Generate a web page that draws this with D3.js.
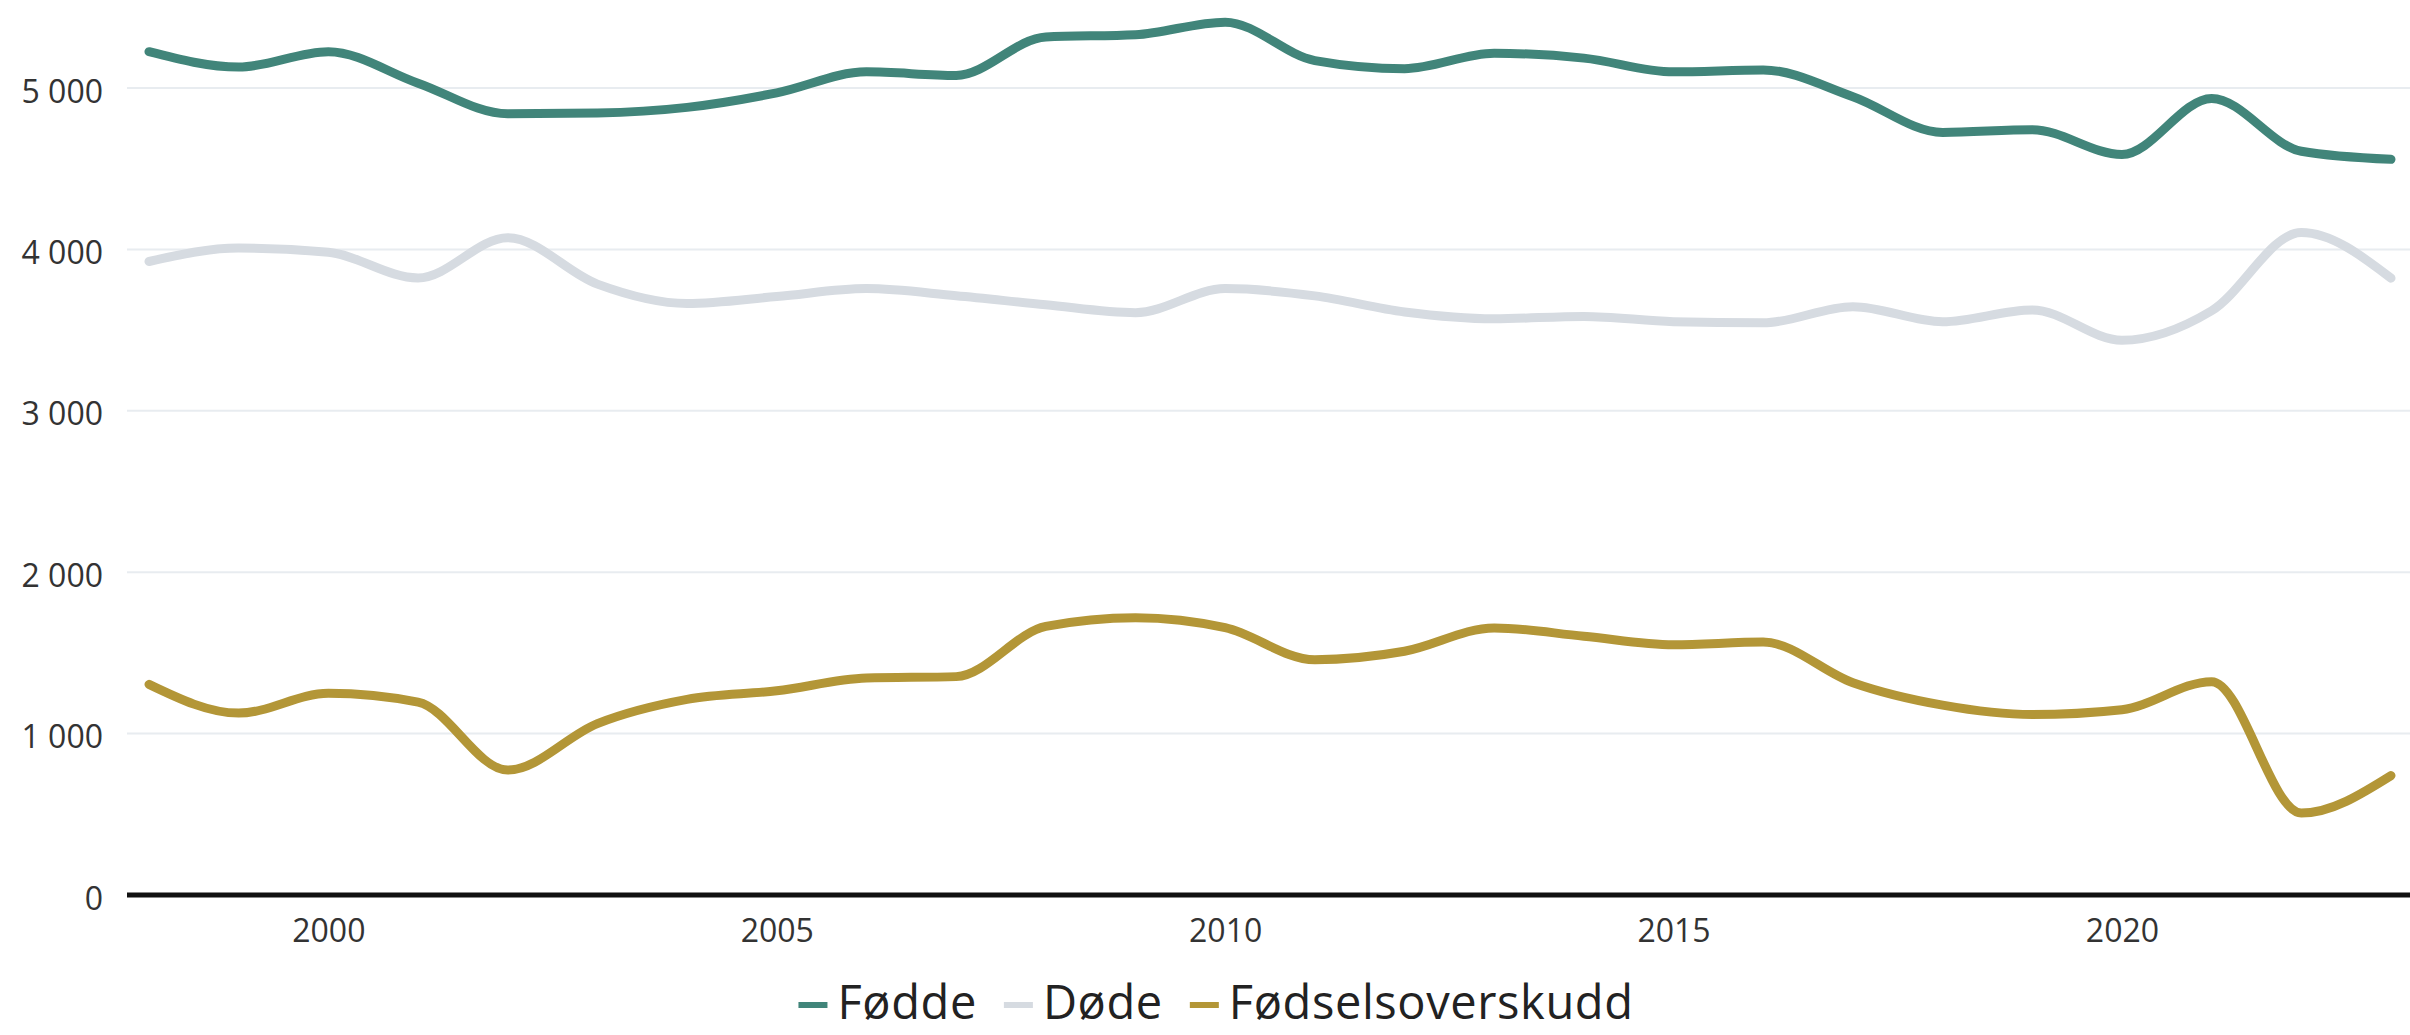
<!DOCTYPE html>
<html>
<head>
<meta charset="utf-8">
<script src="https://cdn.jsdelivr.net/npm/d3@7"></script>
<style>
  body { margin: 0; background: #fff; }
  svg { display: block; font-family: "Open Sans", "Noto Sans", sans-serif; }
</style>
</head>
<body>
<div id="chart"></div>
<script>
'use strict';

var years = [1998, 1999, 2000, 2001, 2002, 2003, 2004, 2005, 2006, 2007, 2008, 2009, 2010,
  2011, 2012, 2013, 2014, 2015, 2016, 2017, 2018, 2019, 2020, 2021, 2022, 2023];
var fodde = [5225, 5130, 5225, 5030, 4840, 4845, 4880, 4970, 5100, 5078, 5316, 5330, 5408,
  5170, 5120, 5215, 5185, 5100, 5112, 4946, 4725, 4742, 4588, 4935, 4608, 4558];
var dode = [3925, 4008, 3982, 3823, 4072, 3785, 3665, 3708, 3757, 3713, 3657, 3608, 3757,
  3712, 3612, 3570, 3585, 3552, 3545, 3645, 3552, 3625, 3437, 3620, 4105, 3822];
var overskudd = [1305, 1127, 1250, 1195, 774, 1062, 1212, 1265, 1344, 1353, 1664, 1718, 1656,
  1458, 1510, 1655, 1603, 1550, 1567, 1315, 1176, 1118, 1148, 1322, 508, 740];
var seriesNames = ['Fødde', 'Døde', 'Fødselsoverskudd'];
var yTicks = [0, 1000, 2000, 3000, 4000, 5000];
var xTicks = [2000, 2005, 2010, 2015, 2020];

var seriesValues = [fodde, dode, overskudd];
var colors = ['#41857a', '#d6dbe1', '#b39637'];

var width = 2410, height = 1035;
var plotLeft = 127, plotRight = 2410;

var svg = d3.select('#chart').append('svg')
  .attr('width', width)
  .attr('height', height);

// scales
var x = d3.scaleLinear()
  .domain([1998, 2023])
  .range([149, 2391]);
var y = d3.scaleLinear()
  .domain([0, 5000])
  .range([895, 88]);

// gridlines
svg.append('g')
  .selectAll('line')
  .data(yTicks.filter(function(d) { return d > 0; }))
  .enter()
  .append('line')
  .attr('x1', plotLeft)
  .attr('x2', plotRight)
  .attr('y1', function(d) { return y(d); })
  .attr('y2', function(d) { return y(d); })
  .style('stroke', '#e8ecf0')
  .style('stroke-width', 2);

// y axis labels
var yAxis = svg.append('g')
  .attr('transform', 'translate(103,0)')
  .call(d3.axisLeft(y)
    .tickValues(yTicks)
    .tickSize(0)
    .tickPadding(0)
    .tickFormat(function(d) { return d3.format(',')(d).replace(/,/g, ' '); }));
yAxis.select('.domain').remove();
yAxis.selectAll('text')
  .attr('dy', '0.44em')
  .style('font-size', '32px')
  .style('fill', '#333')
  .style('font-family', '"Open Sans", sans-serif');

// x axis labels
var xAxis = svg.append('g')
  .attr('transform', 'translate(0,910)')
  .call(d3.axisBottom(x)
    .tickValues(xTicks)
    .tickSize(0)
    .tickPadding(0)
    .tickFormat(d3.format('d')));
xAxis.select('.domain').remove();
xAxis.selectAll('text')
  .attr('dy', '1em')
  .style('font-size', '32px')
  .style('fill', '#333')
  .style('font-family', '"Open Sans", sans-serif');

// zero line
svg.append('line')
  .attr('x1', plotLeft)
  .attr('x2', plotRight)
  .attr('y1', y(0))
  .attr('y2', y(0))
  .style('stroke', '#111')
  .style('stroke-width', 5);

// lines
var line = d3.line()
  .x(function(d, i) { return x(years[i]); })
  .y(function(d) { return y(d); })
  .curve(d3.curveMonotoneX);

svg.append('g')
  .selectAll('path')
  .data(seriesValues)
  .enter()
  .append('path')
  .attr('d', line)
  .style('fill', 'none')
  .style('stroke', function(d, i) { return colors[i]; })
  .style('stroke-width', 9)
  .style('stroke-linecap', 'round')
  .style('stroke-linejoin', 'round');

// legend, centred under the plot
var legendSwatch = 29, legendGap = 10, legendSpacing = 27;
var legend = svg.append('g');
var items = legend.selectAll('g')
  .data(seriesNames)
  .enter()
  .append('g');
items.append('rect')
  .attr('width', legendSwatch)
  .attr('height', 6)
  .attr('y', 1002)
  .style('fill', function(d, i) { return colors[i]; });
items.append('text')
  .attr('x', legendSwatch + legendGap)
  .attr('y', 1019)
  .text(function(d) { return d; })
  .style('font-size', '47px')
  .style('letter-spacing', '0.6px')
  .style('fill', '#222');

var offset = 0;
items.each(function() {
  var g = d3.select(this);
  var w = legendSwatch + legendGap + g.select('text').node().getComputedTextLength();
  g.attr('transform', 'translate(' + offset + ',0)');
  offset += w + legendSpacing;
});
offset -= legendSpacing;
legend.attr('transform', 'translate(' + (1216 - offset / 2) + ',0)');
</script>
</body>
</html>
